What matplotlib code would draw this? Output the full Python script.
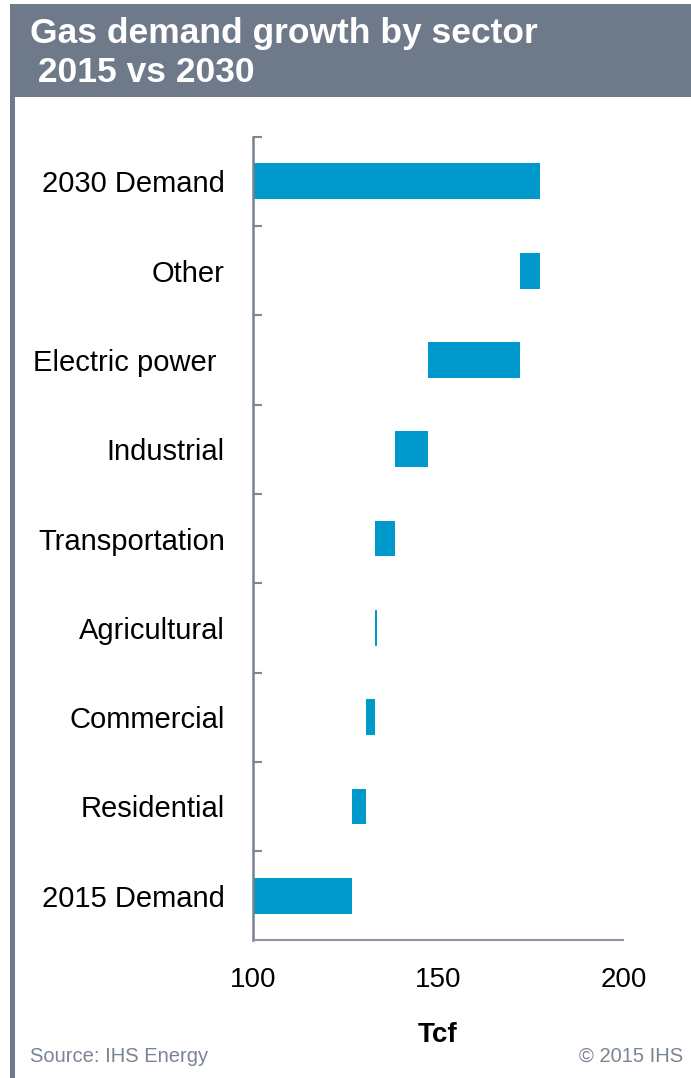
import matplotlib.pyplot as plt
from matplotlib.patches import Rectangle

plt.rcParams['font.family'] = ['Liberation Sans', 'DejaVu Sans']

# Waterfall pieces, bottom to top: start and end of each bar (Tcf)
sectors = ['2015 Demand', 'Residential', 'Commercial', 'Agricultural',
           'Transportation', 'Industrial', 'Electric power ', 'Other',
           '2030 Demand']
bar_start = [100, 126.9, 130.5, 132.9, 132.9, 138.4, 147.4, 172.1, 100]
bar_end = [126.9, 130.5, 132.9, 133.4, 138.4, 147.4, 172.1, 177.5, 177.5]
x_ticks = [100, 150, 200]

bar_color = '#0099CC'
frame_gray = '#6E7A89'

fig = plt.figure(figsize=(6.91, 10.78), dpi=100)
fig.patch.set_facecolor('white')

# header band and left border
fig.add_artist(Rectangle((10 / 691, 1 - 97 / 1078), 681 / 691, 93 / 1078,
                         transform=fig.transFigure, color=frame_gray, lw=0))
fig.add_artist(Rectangle((10 / 691, 0), 5 / 691, 1 - 97 / 1078,
                         transform=fig.transFigure, color=frame_gray, lw=0))
fig.text(30 / 691, 1 - 33 / 1078, 'Gas demand growth by sector', color='white',
         fontsize=25.5, fontweight='bold', va='center', ha='left')
fig.text(28 / 691, 1 - 73 / 1078, ' 2015 vs 2030', color='white',
         fontsize=25.5, fontweight='bold', va='center', ha='left')

ax = fig.add_axes([252.7 / 691, 137.6 / 1078, 370.8 / 691, 803.7 / 1078])
widths = [e - s for s, e in zip(bar_start, bar_end)]
ax.barh(range(len(sectors)), widths, left=bar_start, height=0.4,
        color=bar_color, edgecolor='none')

ax.set_xlim(100, 200)
ax.set_ylim(-0.5, len(sectors) - 0.5)

ax.set_xticks(x_ticks)
ax.set_xticklabels([str(t) for t in x_ticks], fontsize=20)
ax.tick_params(axis='x', length=0, pad=19)

ax.set_yticks(range(len(sectors)))
ax.set_yticklabels(sectors, fontsize=21)
ax.tick_params(axis='y', which='major', length=0, pad=20)
# boundary ticks between categories
ax.set_yticks([i + 0.5 for i in range(len(sectors))], minor=True)
ax.tick_params(axis='y', which='minor', direction='in', length=6.5,
               width=1.5, color='#7F8896')

ax.set_xlabel('Tcf', fontsize=20, fontweight='bold', labelpad=21)

for side in ('top', 'right'):
    ax.spines[side].set_visible(False)
ax.spines['left'].set_color('#7A8290')
ax.spines['left'].set_linewidth(1.8)
ax.spines['bottom'].set_color('#8C96A3')
ax.spines['bottom'].set_linewidth(1.5)

fig.text(30 / 691, 1 - 1056 / 1078, 'Source: IHS Energy', color='#7A8594',
         fontsize=14.5, va='center', ha='left')
fig.text(683 / 691, 1 - 1056 / 1078, '© 2015 IHS', color='#7A8594',
         fontsize=14.5, va='center', ha='right')

fig.savefig('out.png', dpi=100)
